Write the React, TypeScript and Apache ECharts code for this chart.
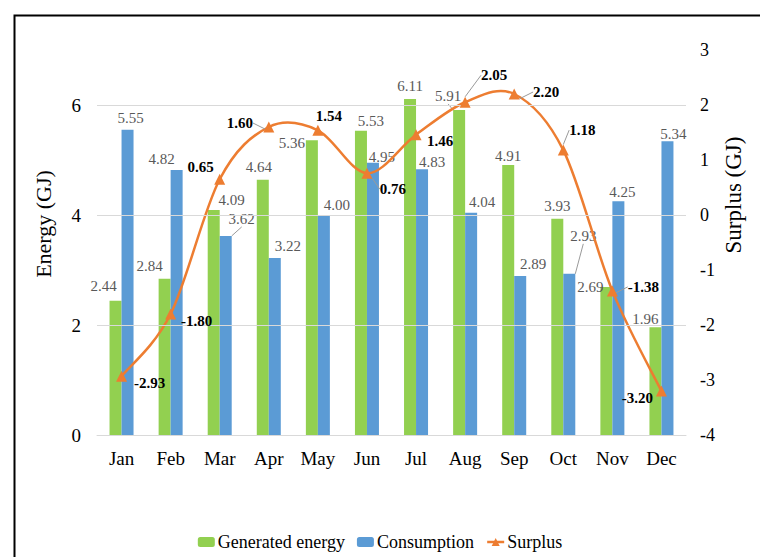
import React, { useEffect, useRef } from "react";
import * as echarts from "echarts";

const months = ["Jan", "Feb", "Mar", "Apr", "May", "Jun", "Jul", "Aug", "Sep", "Oct", "Nov", "Dec"];
const generated = [2.44, 2.84, 4.09, 4.64, 5.36, 5.53, 6.11, 5.91, 4.91, 3.93, 2.69, 1.96];
const consumption = [5.55, 4.82, 3.62, 3.22, 4.0, 4.95, 4.83, 4.04, 2.89, 2.93, 4.25, 5.34];
const surplus = [-2.93, -1.8, 0.65, 1.6, 1.54, 0.76, 1.46, 2.05, 2.2, 1.18, -1.38, -3.2];
const energyGrid = [0, 2, 4, 6];

// label nudges (style only)
const genOffsets = [[-12, -2], [-15, 0], [18, 2], [-4, 0], [-20, 15], [10, 3], [0, 0], [-11, -1], [0, 4], [0, 0], [-16, 12], [-10, 4]];
const conOffsets = [[3, 1], [-15, 2], [16, -4], [13, 1], [13, 2], [9, 7], [10, 5], [11, 2], [13, 0], [14, -25], [4, 3], [6, 5]];
const surOffsets = [[28, 7], [26, 7], [-19, -12], [-29, -4], [11, -14], [26, 16], [24, 6], [29, -27], [32, -2], [19, -20], [31, -4], [-24, 7]];
const genLines = [7];
const conLines = [2, 9];
const surLines = [3, 5, 7, 8, 9, 10];

const FONT = "Liberation Serif";
const ORANGE = "#ED7D31";

export default function App() {
  const ref = useRef<HTMLDivElement>(null);
  useEffect(() => {
    if (!ref.current) return;
    const chart = echarts.init(ref.current, null, { renderer: "svg" });
    const leader = { lineStyle: { color: "#9a9a9a", width: 1 }, length: 0, length2: 0 };
    const valueLabel = {
      show: true,
      position: "top",
      fontFamily: FONT,
      fontSize: 15,
      color: "#595959",
      formatter: (p: any) => Number(p.value).toFixed(2),
    };
    const n = surplus.length;
    chart.setOption({
      animation: false,
      textStyle: { fontFamily: FONT },
      grid: { left: 97, right: 74, top: 50, bottom: 122, containLabel: false },
      legend: {
        data: [
          { name: "Generated energy" },
          { name: "Consumption" },
          { name: "Surplus", lineStyle: { opacity: 1, width: 2.5, color: ORANGE } },
        ],
        left: "center",
        top: 528,
        itemGap: 12,
        itemWidth: 17,
        itemHeight: 10,
        textStyle: { fontFamily: FONT, fontSize: 18, color: "#000", padding: [0, 0, 0, -2] },
      },
      graphic: [
        {
          type: "rect",
          left: 12,
          top: 13,
          shape: { width: 800, height: 600 },
          style: { fill: "none", stroke: "#000", lineWidth: 2 },
          silent: true,
        },
        {
          type: "text",
          x: 43,
          y: 224,
          rotation: Math.PI / 2,
          style: { text: "Energy (GJ)", fontFamily: FONT, fontSize: 22, fill: "#000", align: "center", verticalAlign: "middle" },
        },
        {
          type: "text",
          x: 733,
          y: 195,
          rotation: Math.PI / 2,
          style: { text: "Surplus (GJ)", fontFamily: FONT, fontSize: 23, fill: "#000", align: "center", verticalAlign: "middle" },
        },
      ],
      xAxis: {
        type: "category",
        data: months,
        axisLine: { lineStyle: { color: "#d9d9d9", width: 1 } },
        axisTick: { show: false },
        axisLabel: { fontFamily: FONT, fontSize: 19, color: "#000", margin: 14 },
      },
      yAxis: [
        {
          type: "value",
          min: 0,
          max: 7,
          interval: 1,
          splitLine: { show: false },
          axisLine: { show: false },
          axisTick: { show: false },
          axisLabel: {
            fontFamily: FONT,
            fontSize: 19,
            color: "#000",
            margin: 16,
            formatter: (v: number) => (energyGrid.includes(v) ? String(v) : ""),
          },
        },
        {
          type: "value",
          min: -4,
          max: 3,
          interval: 1,
          splitLine: { show: false },
          axisLine: { show: false },
          axisTick: { show: false },
          axisLabel: { fontFamily: FONT, fontSize: 18, color: "#000", margin: 14 },
        },
      ],
      series: [
        {
          name: "grid",
          type: "line",
          data: [],
          yAxisIndex: 0,
          z: 0,
          silent: true,
          markLine: {
            silent: true,
            symbol: ["none", "none"],
            label: { show: false },
            lineStyle: { color: "#d9d9d9", width: 1, type: "solid" },
            data: energyGrid.map((v) => ({ yAxis: v })),
          },
        },
        {
          name: "Generated energy",
          type: "bar",
          z: 2,
          barWidth: 12,
          barGap: "0%",
          itemStyle: { color: "#92D050" },
          data: generated.map((v, i) => ({ value: v, labelLine: { show: genLines.includes(i) } })),
          label: valueLabel,
          labelLine: { show: false, ...leader },
          labelLayout: (p: any) => ({ dx: genOffsets[p.dataIndex][0], dy: genOffsets[p.dataIndex][1] }),
        },
        {
          name: "Consumption",
          type: "bar",
          z: 2,
          barWidth: 12,
          barGap: "0%",
          itemStyle: { color: "#5B9BD5" },
          data: consumption.map((v, i) => ({ value: v, labelLine: { show: conLines.includes(i) } })),
          label: valueLabel,
          labelLine: { show: false, ...leader },
          labelLayout: (p: any) => ({ dx: conOffsets[p.dataIndex][0], dy: conOffsets[p.dataIndex][1] }),
        },
        {
          name: "SurplusCurve",
          type: "custom",
          yAxisIndex: 1,
          z: 4,
          silent: true,
          data: surplus.map((v, i) => [i, v]),
          encode: { x: 0, y: 1 },
          renderItem: (params: any, api: any) => {
            const i = params.dataIndex;
            if (i >= n - 1) return { type: "group", children: [] };
            const pt = (k: number) => {
              const kk = Math.max(0, Math.min(n - 1, k));
              return api.coord([kk, api.value(1, kk)]);
            };
            const p0 = pt(i - 1);
            const p1 = pt(i);
            const p2 = pt(i + 1);
            const p3 = pt(i + 2);
            const t = 1 / 6;
            return {
              type: "bezierCurve",
              shape: {
                x1: p1[0],
                y1: p1[1],
                x2: p2[0],
                y2: p2[1],
                cpx1: p1[0] + (p2[0] - p0[0]) * t,
                cpy1: p1[1] + (p2[1] - p0[1]) * t,
                cpx2: p2[0] - (p3[0] - p1[0]) * t,
                cpy2: p2[1] - (p3[1] - p1[1]) * t,
              },
              style: { stroke: ORANGE, lineWidth: 2.5, fill: "none" },
            };
          },
        },
        {
          name: "Surplus",
          type: "line",
          yAxisIndex: 1,
          z: 5,
          symbol: "triangle",
          symbolSize: 11,
          itemStyle: { color: ORANGE },
          lineStyle: { color: ORANGE, width: 2.5, opacity: 0 },
          data: surplus.map((v, i) => ({ value: v, labelLine: { show: surLines.includes(i) } })),
          label: {
            show: true,
            position: "inside",
            fontFamily: FONT,
            fontSize: 15,
            fontWeight: "bold",
            color: "#000",
            formatter: (p: any) => Number(p.value).toFixed(2),
          },
          labelLine: { show: false, ...leader },
          labelLayout: (p: any) => ({ dx: surOffsets[p.dataIndex][0], dy: surOffsets[p.dataIndex][1] }),
        },
      ],
    });
    return () => chart.dispose();
  }, []);
  return <div ref={ref} style={{ position: "fixed", left: 0, top: 0, width: 760, height: 557, background: "#fff" }} />;
}
